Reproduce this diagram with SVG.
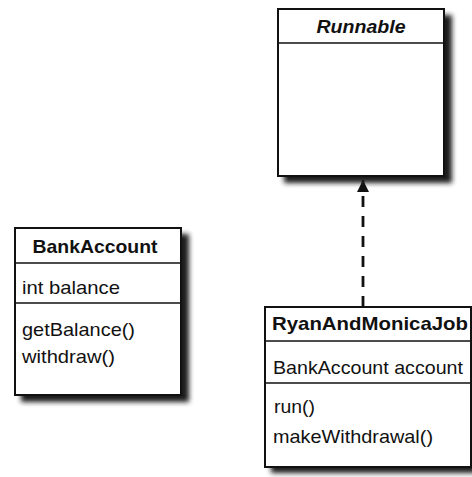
<svg xmlns="http://www.w3.org/2000/svg" width="472" height="477" viewBox="0 0 472 477">
<defs>
<filter id="sh" x="-20%" y="-20%" width="140%" height="140%">
<feGaussianBlur stdDeviation="2.8"/>
</filter>
<marker id="arr" markerWidth="14" markerHeight="14" refX="12" refY="6" orient="auto" markerUnits="userSpaceOnUse">
<path d="M0,0 L12,6 L0,12 z" fill="#111"/>
</marker>
</defs>
<style>
.shadow{fill:#1a1a1a;filter:url(#sh)}
.box{fill:#fff;stroke:#111;stroke-width:2}
.div{stroke:#111;stroke-width:1.5}
.t{font-family:"Liberation Sans",Arial,sans-serif;font-size:19px;fill:#111}
.b{font-weight:bold}
.i{font-style:italic;font-weight:bold}
.conn{stroke:#111;stroke-width:2.8;fill:none;stroke-dasharray:11 9}
</style>
<rect width="472" height="477" fill="#fff"/>
<g id="connectors">
<line class="conn" x1="363" y1="307" x2="363" y2="180" marker-end="url(#arr)"/>
</g>
<g id="runnable">
<rect class="shadow" x="284" y="15" width="168" height="168"/>
<rect class="box" x="278" y="9" width="166" height="167"/>
<line class="div" x1="278" y1="43" x2="444" y2="43"/>
<text class="t i" x="361" y="33" text-anchor="middle" textLength="89" lengthAdjust="spacingAndGlyphs">Runnable</text>
</g>
<g id="bankaccount">
<rect class="shadow" x="21" y="234" width="168" height="168"/>
<rect class="box" x="15" y="228" width="166" height="167"/>
<line class="div" x1="15" y1="263" x2="181" y2="263"/>
<line class="div" x1="15" y1="303" x2="181" y2="303"/>
<text class="t b" x="95" y="253" text-anchor="middle" textLength="125" lengthAdjust="spacingAndGlyphs">BankAccount</text>
<text class="t" x="22" y="294" textLength="98" lengthAdjust="spacingAndGlyphs">int balance</text>
<text class="t" x="22" y="336" textLength="113" lengthAdjust="spacingAndGlyphs">getBalance()</text>
<text class="t" x="22" y="363" textLength="93" lengthAdjust="spacingAndGlyphs">withdraw()</text>
</g>
<g id="ryanandmonicajob">
<rect class="shadow" x="271" y="313" width="206" height="160"/>
<rect class="box" x="265" y="307" width="206" height="160"/>
<line class="div" x1="265" y1="341" x2="471" y2="341"/>
<line class="div" x1="265" y1="383" x2="471" y2="383"/>
<text class="t b" x="370" y="330" text-anchor="middle" textLength="196" lengthAdjust="spacingAndGlyphs">RyanAndMonicaJob</text>
<text class="t" x="273" y="374" textLength="190" lengthAdjust="spacingAndGlyphs">BankAccount account</text>
<text class="t" x="274" y="413" textLength="41" lengthAdjust="spacingAndGlyphs">run()</text>
<text class="t" x="273" y="443" textLength="160" lengthAdjust="spacingAndGlyphs">makeWithdrawal()</text>
</g>
</svg>
